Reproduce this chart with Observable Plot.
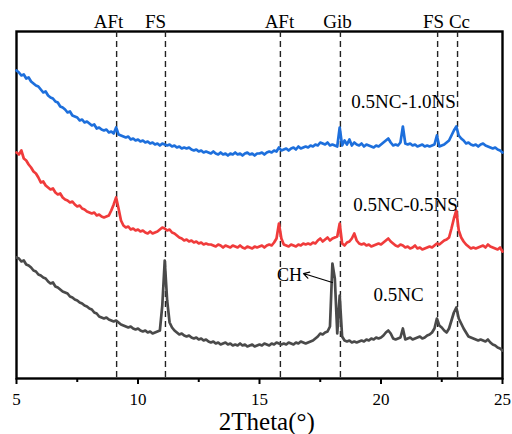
<!DOCTYPE html>
<html><head><meta charset="utf-8">
<script src="https://cdn.jsdelivr.net/npm/d3@7"></script>
<script src="https://cdn.jsdelivr.net/npm/@observablehq/plot@0.6"></script>
<style>
body{margin:0;background:#fff;}
svg text{font-family:"Liberation Serif","Times New Roman",serif;}
svg g[aria-label="x-axis tick label"] text, svg g[aria-label="x-axis tick label"]{font-size:17px;}
svg g[aria-label="x-axis tick"]{stroke-width:2px;}
</style>
</head><body><div id="chart"></div>
<script>
// sampling positions (2θ, degrees)
const twoTheta = d3.range(50, 251).map(v => v / 10);

// intensities (a.u.), one row per degree
const nc10ns = [
308,306,303,304,300,301,297,295,293,292,
289,286,287,283,281,280,277,276,272,271,
269,266,267,263,262,261,258,259,256,257,
255,253,254,250,251,249,248,249,246,247,
245,251,244,243,242,241,242,239,240,238,
239,237,238,236,237,235,236,234,235,233,
235,234,233,234,232,233,231,232,230,231,
230,231,229,228,229,227,228,226,227,226,
225,227,225,224,226,224,225,223,225,224,
226,224,225,223,225,226,224,225,223,225,
225,226,224,226,227,226,228,227,231,228,
229,230,228,230,231,229,232,230,231,232,
231,233,232,234,233,236,235,234,236,233,
234,233,232,251,233,238,234,239,233,236,
234,233,235,232,234,233,232,231,233,232,
234,236,238,240,236,233,234,233,236,252,
235,234,235,233,234,232,233,234,232,233,
232,233,234,243,232,233,234,236,238,243,
248,252,243,240,238,235,236,234,233,234,
232,234,235,233,232,231,230,231,229,228,
226];
const nc05ns = [
226,224,228,220,218,214,211,207,205,201,
196,197,193,191,189,190,186,184,185,181,
179,178,176,177,174,172,173,170,169,167,
166,165,166,163,164,162,161,162,163,168,
174,181,170,158,153,151,152,149,150,148,
149,147,148,146,145,147,145,146,147,149,
151,150,148,149,146,145,143,141,140,138,
139,137,138,136,137,135,136,134,135,134,
134,133,132,134,133,131,133,132,131,133,
132,131,133,131,130,132,131,130,132,131,
132,133,131,133,134,133,136,140,155,140,
134,133,132,134,133,132,134,133,135,134,
135,134,136,135,138,140,137,139,141,138,
140,141,142,155,135,133,136,137,140,145,
138,135,134,135,133,134,132,133,134,135,
134,136,138,140,137,135,133,132,134,133,
131,132,130,131,133,130,131,129,130,131,
132,131,133,135,134,136,138,139,141,150,
160,168,148,141,137,134,132,130,131,130,
131,132,133,131,134,132,131,130,129,131,
127];
const nc = [
121,120,117,118,114,113,111,108,107,104,
103,101,100,97,95,96,92,91,89,87,
86,85,82,81,79,78,76,75,73,72,
70,69,66,65,62,61,60,61,59,58,
57,58,56,54,53,52,51,52,50,49,
50,48,47,48,46,47,45,46,47,48,
73,118,78,56,51,48,46,44,45,43,
42,43,41,40,41,39,40,38,39,37,
36,37,35,36,34,35,36,34,35,33,
34,33,35,33,34,32,33,34,32,33,
34,33,35,34,33,35,34,36,35,34,
35,34,36,35,34,36,35,37,36,35,
36,37,38,40,42,45,44,46,47,52,
115,100,45,83,42,38,37,38,36,37,
36,37,38,37,39,38,40,39,41,40,
41,43,46,48,45,40,39,40,41,50,
39,40,41,39,40,41,42,40,41,43,
44,46,50,60,53,51,48,46,50,58,
66,71,60,55,50,46,42,41,40,39,
38,39,38,37,39,36,34,33,31,30,
28];

const seriesNames = ["0.5NC", "0.5NC-0.5NS", "0.5NC-1.0NS"];
const seriesValues = [nc, nc05ns, nc10ns];
const seriesColors = ["#4a4a4a", "#f03b3b", "#1d6fdc"];
const seriesLabelX = [20.72, 21.01, 20.93];
const seriesLabelY = [78, 168, 271];

const phaseNames = ["AFt", "FS", "AFt", "Gib", "FS", "Cc"];
const phasePositions = [9.12, 11.13, 15.86, 18.33, 22.33, 23.15];
const phaseLabelX = [8.79, 10.72, 15.82, 18.21, 22.16, 23.23];

const majorTicks = [5, 10, 15, 20, 25];
const minorTicks = [7.5, 12.5, 17.5, 22.5];
const xDomain = [5, 25];
const yDomain = [0, 347];

const seriesLabels = seriesNames.map((name, i) => ({name, x: seriesLabelX[i], y: seriesLabelY[i]}));
const phaseLabels = phaseNames.map((name, i) => ({name, x: phaseLabelX[i]}));
const lineMarks = seriesValues.map((vals, s) =>
  Plot.line(twoTheta.map((t, i) => ({t, v: vals[i]})), {x: "t", y: "v", stroke: seriesColors[s], strokeWidth: 2.7}));

const chart = Plot.plot({
  width: 512,
  height: 434,
  marginTop: 31,
  marginRight: 10,
  marginBottom: 56,
  marginLeft: 16,
  x: {domain: xDomain, ticks: majorTicks, tickSize: 6, tickPadding: 8, tickFormat: d => d, label: null},
  y: {domain: yDomain, axis: null},
  marks: [
    Plot.frame({stroke: "black", strokeWidth: 2.4}),
    Plot.ruleX(phasePositions, {stroke: "#222", strokeWidth: 1.4, strokeDasharray: "6,4"}),
    ...lineMarks,
    Plot.ruleX(minorTicks, {y1: 0, y2: -4, stroke: "black", strokeWidth: 2}),
    Plot.text(phaseLabels, {x: "x", y: 351, text: "name", fontSize: 19, lineAnchor: "bottom", fill: "black"}),
    Plot.text(seriesLabels, {x: "x", y: "y", text: "name", fontSize: 19, lineAnchor: "bottom", fill: "black"}),
    Plot.text(["CH"], {x: 16.23, y: 98, text: d => d, fontSize: 18, lineAnchor: "bottom", fill: "black"}),
    Plot.arrow([{x1: 18.0, y1: 96, x2: 16.81, y2: 105}], {x1: "x1", y1: "y1", x2: "x2", y2: "y2", stroke: "black", strokeWidth: 1.2, headLength: 8}),
    Plot.text(["2Theta(°)"], {x: 15.3, y: -51, text: d => d, fontSize: 25, lineAnchor: "bottom", fill: "black"})
  ]
});
document.getElementById("chart").appendChild(chart);
</script>
</body></html>
